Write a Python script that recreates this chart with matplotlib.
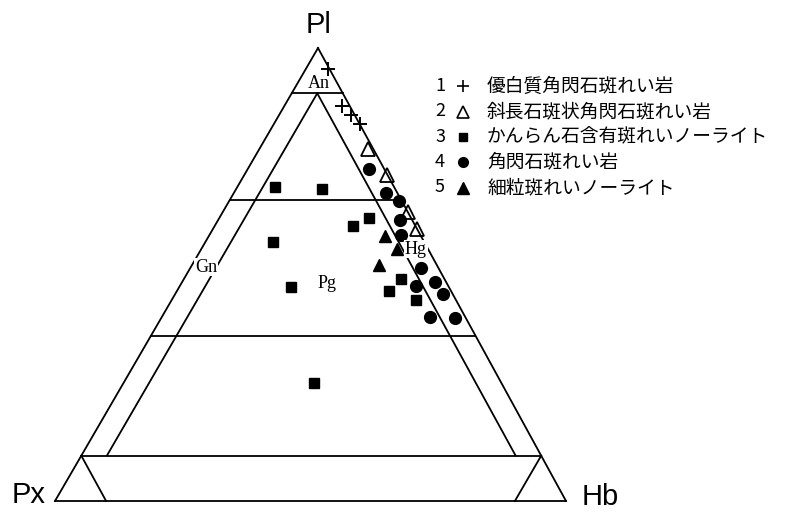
import matplotlib.pyplot as plt

plt.rcParams['font.family'] = ['Noto Sans CJK JP', 'DejaVu Sans']

# modal compositions (vol.%) : Pl, Px, Hb
pl_1 = [95.3, 87.1, 85.1, 83.2]
px_1 = [0.3, 1.6, 0.8, 0.0]
hb_1 = [4.4, 11.3, 14.1, 16.8]

pl_2 = [77.7, 72.0, 63.9, 60.0]
px_2 = [1.0, 0.0, 0.0, 0.0]
hb_2 = [21.3, 28.0, 36.1, 40.0]

pl_3 = [69.3, 68.8, 60.6, 62.4, 57.2, 47.3, 48.9, 46.4, 44.4, 26.0]
px_3 = [23.3, 14.4, 12.2, 8.2, 29.6, 30.9, 8.6, 12.1, 7.8, 36.6]
hb_3 = [7.4, 16.8, 27.2, 29.4, 13.2, 21.8, 42.5, 41.5, 47.8, 37.4]

pl_4 = [73.3, 67.9, 66.3, 62.0, 58.8, 51.5, 48.3, 47.5, 45.8, 40.7, 40.3]
px_4 = [2.9, 2.2, 0.6, 2.4, 3.8, 3.4, 2.1, 6.3, 1.8, 6.9, 2.2]
hb_4 = [23.8, 29.9, 33.1, 35.6, 37.4, 45.1, 49.6, 46.2, 52.4, 52.4, 57.5]

pl_5 = [58.6, 55.6, 52.1]
px_5 = [7.0, 6.1, 11.3]
hb_5 = [34.4, 38.3, 36.6]

rock_names = ['優白質角閃石斑れい岩', '斜長石斑状角閃石斑れい岩',
              'かんらん石含有斑れいノーライト', '角閃石斑れい岩',
              '細粒斑れいノーライト']

# apex positions of the diagram (pixels)
PL = (318, 48)
PX = (55, 501)
HB = (566, 501)


def tern(pl, px, hb):
    s = pl + px + hb
    x = (pl * PL[0] + px * PX[0] + hb * HB[0]) / s
    y = (pl * PL[1] + px * PX[1] + hb * HB[1]) / s
    return x, y


def seg(a, b, **kw):
    x0, y0 = tern(*a)
    x1, y1 = tern(*b)
    ax.plot([x0, x1], [y0, y1], color='black', lw=1.3, **kw)


fig = plt.figure(figsize=(7.98, 5.12), dpi=100)
ax = fig.add_axes([0, 0, 1, 1])
ax.set_xlim(0, 798)
ax.set_ylim(512, 0)
ax.axis('off')

# outer triangle
seg((100, 0, 0), (0, 100, 0))
seg((0, 100, 0), (0, 0, 100))
seg((0, 0, 100), (100, 0, 0))
# Pl lines
for p in [90, 66.5, 36.5, 10]:
    seg((p, 100 - p, 0), (p, 0, 100 - p))
# Hb = 5 and Px = 5
seg((90, 5, 5), (10, 85, 5))
seg((90, 5, 5), (10, 5, 85))
# ultramafic part
seg((10, 90, 0), (0, 90, 10))
seg((10, 0, 90), (0, 10, 90))

# samples
def pts(pl, px, hb):
    xs, ys = [], []
    for a, b, c in zip(pl, px, hb):
        x, y = tern(a, b, c)
        xs.append(x)
        ys.append(y)
    return xs, ys

x, y = pts(pl_1, px_1, hb_1)
ax.plot(x, y, '+', color='black', ms=10, mew=1.4, ls='none')
x, y = pts(pl_2, px_2, hb_2)
ax.plot(x, y, '^', mfc='none', mec='black', ms=9.5, mew=1.3, ls='none')
x, y = pts(pl_3, px_3, hb_3)
ax.plot(x, y, 's', color='black', ms=7, ls='none')
x, y = pts(pl_4, px_4, hb_4)
ax.plot(x, y, 'o', color='black', ms=8.5, ls='none')
x, y = pts(pl_5, px_5, hb_5)
ax.plot(x, y, '^', color='black', ms=9, ls='none')

# apex labels
apex = dict(fontsize=21, family='Liberation Sans', va='baseline')
ax.text(319, 33, 'Pl', ha='center', **apex)
ax.text(46, 503, 'Px', ha='right', **apex)
ax.text(582, 505, 'Hb', ha='left', **apex)

# field names
field = dict(fontsize=13, family='Liberation Serif', ha='center', va='center')
ax.text(318.5, 83, 'An', **field)
ax.text(206, 267, 'Gn', bbox=dict(fc='white', ec='none', pad=0.5), **field)
ax.text(327, 284, 'Pg', **field)
ax.text(416, 249, 'Hg', bbox=dict(fc='white', ec='none', pad=0.5), **field)

# legend
rows = [86, 111.5, 137, 162, 187.5]
keys = [dict(marker='+', color='black', ms=9, mew=1.2),
        dict(marker='^', mfc='none', mec='black', ms=8, mew=1.2),
        dict(marker='s', color='black', ms=5.5),
        dict(marker='o', color='black', ms=7),
        dict(marker='^', color='black', ms=8)]
for i, (yy, kw, name) in enumerate(zip(rows, keys, rock_names)):
    ax.text(440, yy, str(i + 1), fontsize=13, ha='center', va='center')
    ax.plot([463], [yy], ls='none', **kw)
    ax.text(487, yy, name, fontsize=13.5, ha='left', va='center')

fig.savefig('out.png', dpi=100)
